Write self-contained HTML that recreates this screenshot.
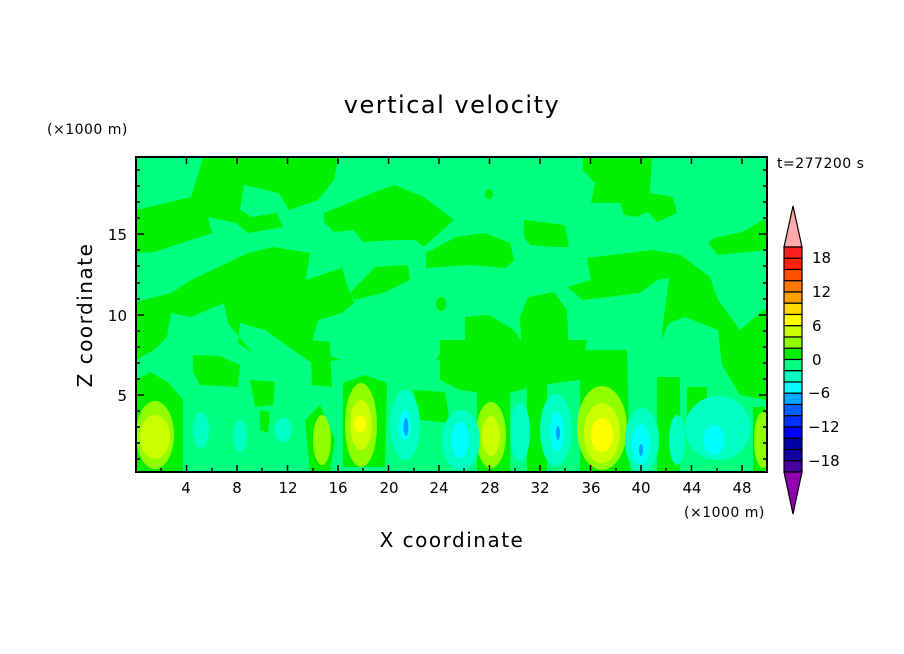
<!DOCTYPE html>
<html><head><meta charset="utf-8"><style>
html,body{margin:0;padding:0;background:#fff}
svg{display:block}
text{font-family:"DejaVu Sans","Liberation Sans",sans-serif;fill:#000}
</style></head><body>
<svg width="904" height="654" viewBox="0 0 904 654" xmlns="http://www.w3.org/2000/svg">
<defs><clipPath id="c"><rect x="136" y="157" width="631" height="315"/></clipPath></defs>
<rect x="0" y="0" width="904" height="654" fill="#fff"/>
<g clip-path="url(#c)">
<rect x="136" y="157" width="631" height="315" fill="#00ff80"/>
<g fill="#00f000">
<path d="M136,210 L191,197 L203,158 L338,158 L334,180 L318,200 L289,210 L279,193 L244,185 L240,210 L252,217 L277,213 L283,227 L248,233 L236,223 L208,217 L212,233 L191,240 L154,252 L136,253Z"/>
<path d="M324,213 L375,192 L395,185 L424,197 L454,220 L424,247 L416,240 L395,240 L363,242 L354,230 L334,232 L324,222Z"/>
<path d="M426,253 L456,237 L485,233 L510,243 L514,260 L506,268 L469,265 L426,268Z"/>
<ellipse cx="489" cy="194" rx="4" ry="5"/>
<path d="M524,220 L542,222 L565,225 L569,247 L555,247 L530,245 L524,237Z"/>
<path d="M583,158 L652,158 L650,193 L673,197 L677,213 L657,222 L648,212 L636,217 L624,215 L620,203 L591,203 L595,183 L583,170Z"/>
<path d="M767,218 L742,232 L714,238 L708,243 L718,255 L767,250Z"/>
<path d="M587,258 L652,250 L681,255 L710,277 L718,300 L740,330 L767,307 L767,400 L740,395 L722,365 L718,330 L685,317 L669,323 L661,340 L669,278 L657,280 L640,293 L583,300 L567,287 L591,280Z"/>
<path d="M136,302 L171,293 L191,280 L248,253 L273,247 L310,253 L306,280 L342,268 L350,293 L354,303 L342,313 L318,320 L310,350 L342,360 L310,362 L265,330 L240,323 L238,343 L252,353 L228,323 L224,303 L191,317 L171,313 L167,337 L154,350 L136,360Z"/>
<path d="M350,293 L375,267 L408,265 L410,280 L383,293 L354,300Z"/>
<ellipse cx="441" cy="304" rx="5" ry="7"/>
<path d="M528,297 L554,292 L567,310 L569,350 L554,362 L522,362 L520,317Z"/>
<path d="M465,317 L489,315 L514,330 L534,360 L436,360 L448,340 L465,340Z"/>
<path d="M136,380 L150,372 L168,382 L183,400 L183,472 L136,472Z"/>
<path d="M193,355 L220,356 L240,365 L238,387 L200,385 L193,372Z"/>
<path d="M250,380 L275,382 L273,405 L255,407Z"/>
<path d="M260,410 L270,412 L268,433 L260,430Z"/>
<path d="M310,340 L330,342 L332,387 L312,385Z"/>
<path d="M305,420 L320,405 L335,440 L330,472 L310,472Z"/>
<path d="M343,383 L365,375 L387,383 L385,467 L343,467Z"/>
<path d="M413,390 L445,392 L450,423 L420,420Z"/>
<path d="M440,340 L587,340 L580,380 L540,385 L500,395 L460,390 L440,380Z"/>
<path d="M477,380 L510,380 L510,472 L477,472Z"/>
<path d="M527,383 L547,383 L547,472 L527,472Z"/>
<path d="M580,350 L627,350 L630,472 L580,472Z"/>
<path d="M657,377 L680,377 L680,472 L657,472Z"/>
<path d="M687,387 L707,387 L707,417 L687,417Z"/>
<path d="M753,407 L767,407 L767,472 L753,472Z"/>
</g>
<g fill="#90ff00">
<ellipse cx="155" cy="435" rx="19" ry="34"/>
<ellipse cx="322" cy="440" rx="9" ry="25"/>
<ellipse cx="361" cy="425" rx="16" ry="42"/>
<ellipse cx="491" cy="435" rx="15" ry="33"/>
<ellipse cx="602" cy="428" rx="25" ry="42"/>
<ellipse cx="763" cy="440" rx="9" ry="28"/>
</g>
<g fill="#ccff00">
<ellipse cx="155" cy="437" rx="15" ry="22"/>
<ellipse cx="361" cy="425" rx="11" ry="25"/>
<ellipse cx="491" cy="436" rx="9" ry="20"/>
<ellipse cx="602" cy="433" rx="18" ry="30"/>
</g>
<g fill="#ffff00">
<ellipse cx="360" cy="424" rx="6" ry="8"/>
<ellipse cx="602" cy="435" rx="11" ry="17"/>
</g>
<g fill="#00ffc0">
<ellipse cx="201" cy="430" rx="8" ry="18"/>
<ellipse cx="240" cy="436" rx="7" ry="16"/>
<ellipse cx="283" cy="430" rx="9" ry="12"/>
<ellipse cx="405" cy="425" rx="15" ry="35"/>
<ellipse cx="461" cy="440" rx="19" ry="30"/>
<ellipse cx="520" cy="432" rx="10" ry="30"/>
<ellipse cx="556" cy="430" rx="16" ry="36"/>
<ellipse cx="642" cy="440" rx="17" ry="32"/>
<ellipse cx="677" cy="440" rx="8" ry="25"/>
<ellipse cx="718" cy="428" rx="33" ry="32"/>
</g>
<g fill="#00ffff">
<ellipse cx="405" cy="425" rx="6" ry="15"/>
<ellipse cx="460" cy="440" rx="9" ry="18"/>
<ellipse cx="557" cy="432" rx="7" ry="20"/>
<ellipse cx="641" cy="444" rx="9" ry="20"/>
<ellipse cx="714" cy="440" rx="10" ry="15"/>
</g>
<g fill="#00a0ff">
<ellipse cx="406" cy="427" rx="2.5" ry="9"/>
<ellipse cx="558" cy="433" rx="2" ry="7"/>
<ellipse cx="641" cy="450" rx="2" ry="6"/>
</g>
</g>
<rect x="136" y="157" width="631" height="315" fill="none" stroke="#000" stroke-width="2"/>
<g stroke="#000" stroke-width="1.5">
<path d="M186.5,472v-7M237,472v-7M287.5,472v-7M338,472v-7M388.5,472v-7M439,472v-7M489.5,472v-7M540,472v-7M590.5,472v-7M641,472v-7M691.5,472v-7M742,472v-7"/>
<path d="M186.5,157v7M237,157v7M287.5,157v7M338,157v7M388.5,157v7M439,157v7M489.5,157v7M540,157v7M590.5,157v7M641,157v7M691.5,157v7M742,157v7"/>
<path d="M161,472v-4M212,472v-4M262,472v-4M313,472v-4M363,472v-4M414,472v-4M464,472v-4M515,472v-4M565,472v-4M616,472v-4M666,472v-4M717,472v-4"/>
<path d="M136,395h8M136,315h8M136,234h8M767,395h-8M767,315h-8M767,234h-8"/>
<path d="M136,459h4M136,443h4M136,427h4M136,411h4M136,379h4M136,363h4M136,347h4M136,331h4M136,299h4M136,283h4M136,266h4M136,250h4M136,218h4M136,202h4M136,186h4M136,170h4"/>
<path d="M767,459h-4M767,443h-4M767,427h-4M767,411h-4M767,379h-4M767,363h-4M767,347h-4M767,331h-4M767,299h-4M767,283h-4M767,266h-4M767,250h-4M767,218h-4M767,202h-4M767,186h-4M767,170h-4"/>
</g>
<g font-size="15" text-anchor="middle">
<text x="186" y="493">4</text><text x="237" y="493">8</text><text x="288" y="493">12</text><text x="338" y="493">16</text><text x="389" y="493">20</text><text x="439" y="493">24</text><text x="490" y="493">28</text><text x="540" y="493">32</text><text x="591" y="493">36</text><text x="641" y="493">40</text><text x="692" y="493">44</text><text x="742" y="493">48</text>
</g>
<g font-size="15" text-anchor="end">
<text x="127" y="401">5</text><text x="127" y="321">10</text><text x="127" y="240">15</text>
</g>
<text x="452" y="113" font-size="24" letter-spacing="1.5" text-anchor="middle">vertical velocity</text>
<text x="452" y="547" font-size="20" letter-spacing="1.5" text-anchor="middle">X coordinate</text>
<text transform="translate(92,315) rotate(-90)" font-size="20" letter-spacing="1.5" text-anchor="middle">Z coordinate</text>
<text x="47" y="134" font-size="14" letter-spacing="0.5">(×1000 m)</text>
<text x="684" y="517" font-size="14" letter-spacing="0.5">(×1000 m)</text>
<text x="777" y="168" font-size="14" letter-spacing="0.5">t=277200 s</text>
<g stroke="#000" stroke-width="1.2">
<path d="M793,206 L802,247 L784,247Z" fill="#ffaaaa"/>
<rect x="784" y="247.0" width="18" height="11.25" fill="#ff2020"/>
<rect x="784" y="258.25" width="18" height="11.25" fill="#ff2000"/>
<rect x="784" y="269.5" width="18" height="11.25" fill="#ff5000"/>
<rect x="784" y="280.75" width="18" height="11.25" fill="#ff7800"/>
<rect x="784" y="292.0" width="18" height="11.25" fill="#ffa000"/>
<rect x="784" y="303.25" width="18" height="11.25" fill="#ffd800"/>
<rect x="784" y="314.5" width="18" height="11.25" fill="#ffff00"/>
<rect x="784" y="325.75" width="18" height="11.25" fill="#ccff00"/>
<rect x="784" y="337.0" width="18" height="11.25" fill="#90ff00"/>
<rect x="784" y="348.25" width="18" height="11.25" fill="#00f000"/>
<rect x="784" y="359.5" width="18" height="11.25" fill="#00ff80"/>
<rect x="784" y="370.75" width="18" height="11.25" fill="#00ffc0"/>
<rect x="784" y="382.0" width="18" height="11.25" fill="#00ffff"/>
<rect x="784" y="393.25" width="18" height="11.25" fill="#00a8ff"/>
<rect x="784" y="404.5" width="18" height="11.25" fill="#0060ff"/>
<rect x="784" y="415.75" width="18" height="11.25" fill="#0030ff"/>
<rect x="784" y="427.0" width="18" height="11.25" fill="#0000ff"/>
<rect x="784" y="438.25" width="18" height="11.25" fill="#0000a8"/>
<rect x="784" y="449.5" width="18" height="11.25" fill="#1000a0"/>
<rect x="784" y="460.75" width="18" height="11.25" fill="#4400a0"/>
<path d="M784,472 L802,472 L793,514Z" fill="#9000b0"/>
</g>
<g font-size="15">
<text x="812" y="263">18</text><text x="812" y="297">12</text><text x="812" y="331">6</text><text x="812" y="365">0</text><text x="808" y="398">−6</text><text x="808" y="432">−12</text><text x="808" y="466">−18</text>
</g>
</svg>
</body></html>
